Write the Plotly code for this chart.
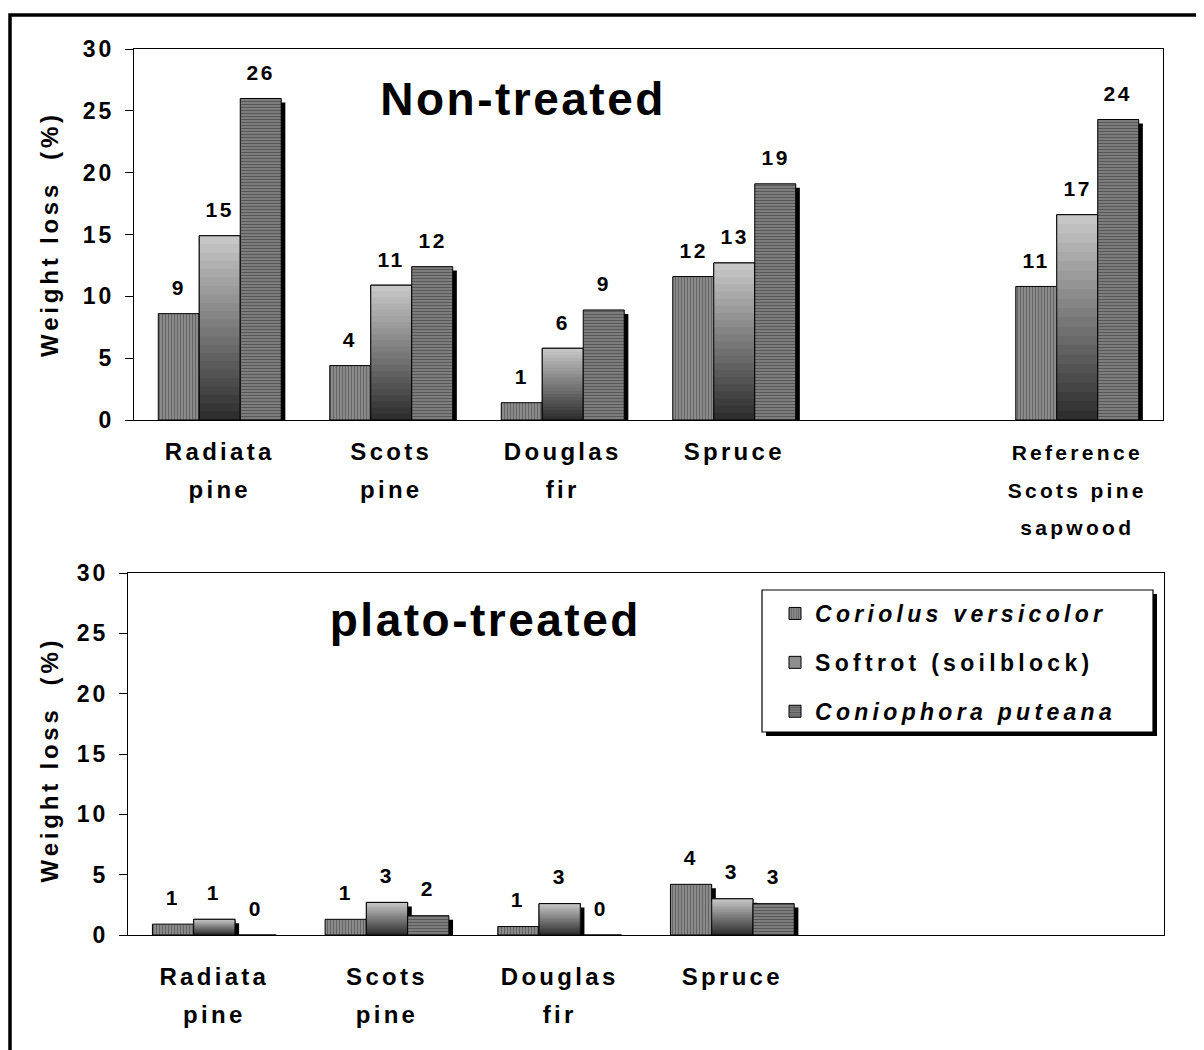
import plotly.graph_objects as go

FONT = "Liberation Sans, Arial, Helvetica, sans-serif"

# ---------------- data ----------------
series_names = ["<i>Coriolus versicolor</i>", "Softrot (soilblock)", "<i>Coniophora puteana</i>"]

top_ticklabels = ["Radiata<br>pine", "Scots<br>pine", "Douglas<br>fir", "Spruce", "",
                  "Reference<br>Scots pine<br>sapwood"]
top_species = ["Radiata<br>pine", "Scots<br>pine", "Douglas<br>fir", "Spruce",
               "Reference<br>Scots pine<br>sapwood"]
top_coriolus = [8.6, 4.4, 1.4, 11.6, 10.8]
top_softrot = [14.9, 10.9, 5.8, 12.7, 16.6]
top_coniophora = [26.0, 12.4, 8.9, 19.1, 24.3]

bottom_ticklabels = ["Radiata<br>pine", "Scots<br>pine", "Douglas<br>fir", "Spruce", "", ""]
bottom_species = ["Radiata<br>pine", "Scots<br>pine", "Douglas<br>fir", "Spruce"]
bottom_coriolus = [0.9, 1.3, 0.7, 4.2]
bottom_softrot = [1.3, 2.7, 2.6, 3.0]
bottom_coniophora = [0.0, 1.6, 0.0, 2.6]

y_ticks = [0, 5, 10, 15, 20, 25, 30]

# ---------------- styling ----------------
W, H = 1204, 1050
OFF = 8  # page body margin
BAR_W = 0.239
SHADOW_DX = 0.024
N_GRAD = 22
GRAD_LIGHT = (202, 202, 202)
GRAD_DARK = (44, 44, 44)
TICK_BASE = 29      # sets the line spacing of multi-line category labels
TICK_GLYPH = 24     # visible size of category labels
TICK_GLYPH_SMALL = 21


def px_x(p):
    return (p - OFF) / W


def px_y(p):
    return 1 - (p - OFF) / H


def styled_ticks(labels):
    out = []
    for lab in labels:
        size = TICK_GLYPH_SMALL if lab.count("<br>") >= 2 else TICK_GLYPH
        out.append("<br>".join(f"<span style='font-size:{size}px'>{ln}</span>"
                               for ln in lab.split("<br>")) if lab else "")
    return out


fig = go.Figure()


def add_panel(species, ticklabels, values_list, xa, ya, shadow_dy, show_legend, label_shift):
    xs = [ticklabels.index(s) for s in species]
    offsets = [-1.5 * BAR_W + j * BAR_W for j in range(3)]
    common = dict(xaxis=xa, yaxis=ya, width=BAR_W, hoverinfo="skip")
    # drop shadows
    for j, vals in enumerate(values_list):
        fig.add_trace(go.Bar(x=xs, y=vals, base=-shadow_dy, offset=offsets[j] + SHADOW_DX,
                             marker=dict(color="black", line=dict(width=0)),
                             showlegend=False, legendgroup=f"g{j}", **common))
    # Coriolus
    fig.add_trace(go.Bar(x=xs, y=values_list[0], offset=offsets[0], name=series_names[0],
                         marker=dict(color="#8c8c8c", line=dict(color="black", width=1),
                                     pattern=dict(shape="|", fgcolor="#333333", bgcolor="#969696",
                                                  size=3, solidity=0.5)),
                         showlegend=show_legend, legendgroup="g0", **common))
    # Softrot: legend swatch + vertical gradient layers + outline
    fig.add_trace(go.Bar(x=xs, y=values_list[1], offset=offsets[1], name=series_names[1],
                         marker=dict(color="#8e8e8e", line=dict(color="black", width=1)),
                         showlegend=show_legend, legendgroup="g1", **common))
    for k in range(N_GRAD, 0, -1):
        t = (k - 0.5) / N_GRAD
        c = tuple(int(GRAD_DARK[i] + (GRAD_LIGHT[i] - GRAD_DARK[i]) * t) for i in range(3))
        fig.add_trace(go.Bar(x=xs, y=[v * k / N_GRAD for v in values_list[1]], offset=offsets[1],
                             marker=dict(color=f"rgb{c}", line=dict(width=0)),
                             showlegend=False, legendgroup="g1", **common))
    fig.add_trace(go.Bar(x=xs, y=values_list[1], offset=offsets[1],
                         marker=dict(color="rgba(0,0,0,0)", line=dict(color="black", width=1)),
                         showlegend=False, legendgroup="g1", **common))
    # Coniophora
    fig.add_trace(go.Bar(x=xs, y=values_list[2], offset=offsets[2], name=series_names[2],
                         marker=dict(color="#7a7a7a", line=dict(color="black", width=1),
                                     pattern=dict(shape="-", fgcolor="#222222", bgcolor="#8e8e8e",
                                                  size=3, solidity=0.55)),
                         showlegend=show_legend, legendgroup="g2", **common))
    # value labels
    for j, vals in enumerate(values_list):
        for x, v in zip(xs, vals):
            fig.add_annotation(x=x + offsets[j] + BAR_W / 2, y=v, xref=xa, yref=ya,
                               text=f"{v:.0f}", showarrow=False, yshift=label_shift,
                               xanchor="center", yanchor="middle",
                               font=dict(family=FONT, size=21, color="black", weight="bold"))


add_panel(top_species, top_ticklabels, [top_coriolus, top_softrot, top_coniophora],
          "x", "y", 0.32, True, 26)
add_panel(bottom_species, bottom_ticklabels, [bottom_coriolus, bottom_softrot, bottom_coniophora],
          "x2", "y2", 0.33, False, 27)

xtickfont = dict(family=FONT, size=TICK_BASE, color="black", weight="bold")
ytickfont = dict(family=FONT, size=23, color="black", weight="bold")
xcommon = dict(range=[-0.5, 5.5], tickmode="array", tickvals=list(range(6)), showline=True,
               linecolor="black", linewidth=1, mirror=True, ticks="", showgrid=False,
               zeroline=False, tickfont=xtickfont, fixedrange=True, automargin=False)
ycommon = dict(range=[0, 30], tickmode="array", tickvals=y_ticks, ticks="outside", ticklen=8,
               tickcolor="black", showline=True, linecolor="black", linewidth=1, mirror=True,
               showgrid=False, zeroline=False, tickfont=ytickfont, ticklabelstandoff=6,
               fixedrange=True, automargin=False)

fig.update_layout(
    width=W, height=H,
    margin=dict(l=0, r=0, t=0, b=0, autoexpand=False),
    paper_bgcolor="white", plot_bgcolor="white",
    barmode="overlay",
    font=dict(family=FONT, color="black"),
    xaxis=dict(domain=[px_x(134), px_x(1163)], anchor="y", ticktext=styled_ticks(top_ticklabels),
               ticklabelstandoff=4, **xcommon),
    yaxis=dict(domain=[px_y(420), px_y(49)], anchor="x", **ycommon),
    xaxis2=dict(domain=[px_x(128), px_x(1164)], anchor="y2",
                ticktext=styled_ticks(bottom_ticklabels), ticklabelstandoff=14, **xcommon),
    yaxis2=dict(domain=[px_y(935), px_y(573)], anchor="x2", **ycommon),
    legend=dict(x=px_x(775), y=px_y(592), xanchor="left", yanchor="top",
                bgcolor="rgba(0,0,0,0)", borderwidth=0, tracegroupgap=16,
                traceorder="grouped",
                font=dict(family=FONT, size=23, color="black", weight="bold")),
    showlegend=True,
)

# legend box with drop shadow
fig.add_shape(type="rect", xref="paper", yref="paper", x0=px_x(766), x1=px_x(1157),
              y0=px_y(736), y1=px_y(594), fillcolor="black", line=dict(width=0), layer="above")
fig.add_shape(type="rect", xref="paper", yref="paper", x0=px_x(762), x1=px_x(1153),
              y0=px_y(732), y1=px_y(590), fillcolor="white", line=dict(color="black", width=1.2),
              layer="above")
# outer frame
fig.add_shape(type="rect", xref="paper", yref="paper", x0=px_x(10), x1=1.2,
              y0=-0.2, y1=px_y(15), fillcolor="rgba(0,0,0,0)", line=dict(color="black", width=3.5),
              layer="above")

# panel titles
fig.add_annotation(x=px_x(523), y=px_y(99), xref="paper", yref="paper", text="Non-treated",
                   showarrow=False, xanchor="center", yanchor="middle",
                   font=dict(family=FONT, size=46, color="black", weight="bold"))
fig.add_annotation(x=px_x(485), y=px_y(620), xref="paper", yref="paper", text="plato-treated",
                   showarrow=False, xanchor="center", yanchor="middle",
                   font=dict(family=FONT, size=46, color="black", weight="bold"))
# y-axis titles
for yc in [(49 + 420) / 2, 760]:
    fig.add_annotation(x=px_x(49), y=px_y(yc), xref="paper", yref="paper", text="Weight loss  (%)",
                       textangle=-90, showarrow=False, xanchor="center", yanchor="middle",
                       font=dict(family=FONT, size=24, color="black", weight="bold"))

post = """
var gd = document.getElementById('{plot_id}');
function sp(sel, v){ gd.querySelectorAll(sel).forEach(function(t){ t.style.letterSpacing = v; }); }
sp('.xtick text', '3.3px');
sp('.x2tick text', '3.3px');
sp('.ytick text', '3px');
sp('.y2tick text', '3px');
sp('.annotation-text', '2.5px');
gd.querySelectorAll('.annotation-text').forEach(function(t){
  if (parseFloat(t.style.fontSize) === 24) { t.style.letterSpacing = '3.8px'; }
});
sp('.legendtext', '4.3px');
gd.querySelectorAll('.legend [clip-path]').forEach(function(e){ e.removeAttribute('clip-path'); });
"""

fig.write_html("out.html", post_script=post)
